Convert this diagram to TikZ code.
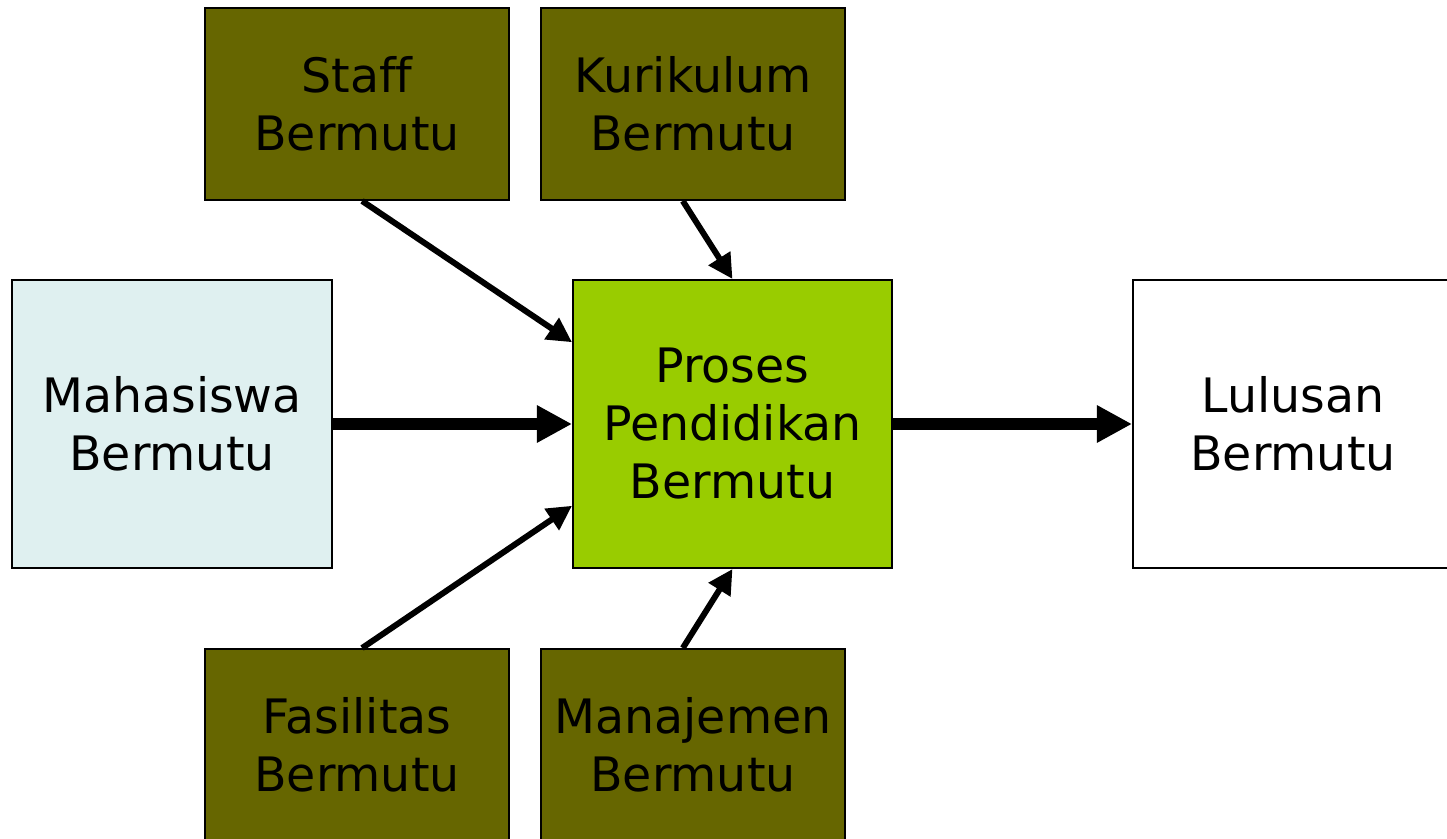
\documentclass[tikz,border=0pt]{standalone}
\usepackage{fontspec}
\setmainfont{DejaVu Sans}[RawFeature={-liga}]
\usepackage{tikz}
\usetikzlibrary{arrows.meta}
\definecolor{olivebox}{HTML}{666600}
\definecolor{limebox}{HTML}{99CC00}
\definecolor{icebox}{HTML}{DFF0F0}
\tikzset{factorbox/.style={shape=rectangle, fill=olivebox, draw=black, line width=1.1pt, minimum width=6.08cm, minimum height=3.84cm, align=center, inner sep=0pt, font=\fontsize{27}{33}\selectfont},
mainbox/.style={shape=rectangle, draw=black, line width=1.1pt, minimum width=6.4cm, minimum height=5.76cm, align=center, inner sep=0pt, font=\fontsize{27}{33}\selectfont},
thinarrow/.style={line width=3.4pt, -{Triangle[length=14pt,width=14pt]}},
thickarrow/.style={line width=6.8pt, -{Triangle[length=20pt,width=20pt]}}}

\begin{document}
\begin{tikzpicture}
\clip (0,0) rectangle (28.94,16.76);
\useasboundingbox (0,0) rectangle (28.94,16.76);
\node[style=factorbox] (staff) at (7.14,14.68) {Staf{}f\\Bermutu};
\node[style=factorbox] (kurikulum) at (13.86,14.68) {Kurikulum\\Bermutu};
\node[style=mainbox, fill=icebox] (mahasiswa) at (3.44,8.28) {Mahasiswa\\Bermutu};
\node[style=mainbox, fill=limebox, minimum width=6.38cm] (proses) at (14.65,8.28) {Proses\\Pendidikan\\Bermutu};
\node[style=mainbox, fill=white] (lulusan) at (25.86,8.28) {Lulusan\\Bermutu};
\node[style=factorbox] (fasilitas) at (7.14,1.86) {Fasilitas\\Bermutu};
\node[style=factorbox] (manajemen) at (13.86,1.86) {Manajemen\\Bermutu};
\draw [thinarrow] (staff.-87) -- (proses.153);
\draw [thinarrow] (kurikulum.-96) -- (proses.north);
\draw [thinarrow] (fasilitas.87) -- (proses.207);
\draw [thinarrow] (manajemen.96) -- (proses.south);
\draw [thickarrow] (mahasiswa.east) -- (proses.west);
\draw [thickarrow] (proses.east) -- (lulusan.west);
\end{tikzpicture}
\end{document}
